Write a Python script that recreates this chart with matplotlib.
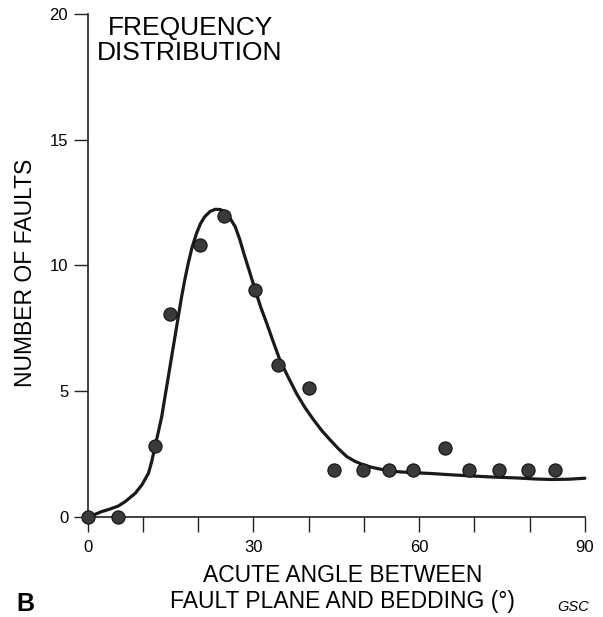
import matplotlib.pyplot as plt

plt.rcParams['font.family'] = ['Liberation Sans', 'DejaVu Sans']

# observed fault counts per angle class
angle = [0, 5.4, 12.2, 14.9, 20.3, 24.6, 30.3, 34.5, 40, 44.5, 49.8, 54.5, 58.8, 64.7, 69, 74.4, 79.7, 84.5]
count = [0, 0, 2.8, 8.05, 10.8, 11.95, 9.0, 6.05, 5.1, 1.85, 1.85, 1.85, 1.85, 2.75, 1.85, 1.85, 1.85, 1.85]

# hand drawn smooth curve
curve_x = [0, 1.2, 2.5, 4.0, 5.5, 6.8, 8.6, 9.8, 11.0, 11.6, 12.2, 12.8, 13.4, 14.0, 14.6, 15.2, 15.8,
           16.4, 17.0, 17.6, 18.2, 18.9, 19.7, 20.4, 21.2, 22.2, 23.1, 24.0, 24.9, 25.8, 26.7, 27.5,
           28.3, 29.3, 30.3, 31.3, 32.4, 33.6, 34.8, 36.3, 37.8, 39.3, 40.9, 42.4, 43.9, 45.4, 46.9,
           48.4, 49.9, 51.5, 53.0, 56.0, 59.0, 62.0, 65.5, 68.7, 73.0, 77.7, 81.0, 83.8, 87.0, 90]
curve_y = [0, 0.08, 0.2, 0.3, 0.42, 0.6, 0.93, 1.26, 1.73, 2.2, 2.8, 3.38, 3.98, 4.78, 5.57, 6.37, 7.16,
           7.96, 8.75, 9.45, 10.08, 10.72, 11.27, 11.65, 11.94, 12.15, 12.23, 12.22, 12.13, 11.86, 11.54, 11.05,
           10.45, 9.75, 9.03, 8.35, 7.7, 6.95, 6.23, 5.55, 4.9, 4.35, 3.85, 3.42, 3.05, 2.7, 2.39,
           2.2, 2.06, 1.96, 1.89, 1.79, 1.75, 1.72, 1.67, 1.63, 1.58, 1.54, 1.5, 1.48, 1.49, 1.53]

fig = plt.figure(figsize=(6.03, 6.17), dpi=100)
ax = fig.add_axes([0.1454, 0.1626, 0.8246, 0.8147])

ax.plot(curve_x, curve_y, color='#1a1a1a', lw=2.3, solid_capstyle='round', solid_joinstyle='round', clip_on=False)
ax.plot(angle, count, 'o', color='#3a3a3a', mec='#111111', mew=0.8, ms=9.5, clip_on=False, zorder=3)

ax.set_xlim(0, 90)
ax.set_ylim(0, 20)
ax.spines['top'].set_visible(False)
ax.spines['right'].set_visible(False)
for s in ['left', 'bottom']:
    ax.spines[s].set_linewidth(1.2)
    ax.spines[s].set_color('#222222')

ax.set_xticks(range(0, 91, 10))
ax.set_xticklabels([str(v) if v % 30 == 0 else '' for v in range(0, 91, 10)])
ax.set_yticks([0, 5, 10, 15, 20])
ax.tick_params(axis='x', direction='out', length=11, width=1.0, labelsize=12, pad=6, color='#222222')
ax.tick_params(axis='y', direction='out', length=10, width=1.0, labelsize=12, pad=4, color='#222222')

ax.set_xlabel('ACUTE ANGLE BETWEEN\nFAULT PLANE AND BEDDING (°)', fontsize=16.5, linespacing=1.15)
ax.xaxis.set_label_coords(0.512, -0.094, transform=ax.transAxes)
ax.xaxis.label.set_va('top')
ax.set_ylabel('NUMBER OF FAULTS', fontsize=16.5, va='center')
ax.yaxis.set_label_coords(-0.126, 0.486, transform=ax.transAxes)

ax.text(0.206, 0.996, 'FREQUENCY\nDISTRIBUTION', transform=ax.transAxes, ha='center', va='top',
        fontsize=19, linespacing=1.05)

fig.text(0.027, 0.009, 'B', fontsize=18, fontweight='bold', ha='left', va='baseline')
fig.text(0.925, 0.009, 'GSC', fontsize=10.5, fontstyle='italic', ha='left', va='baseline')

fig.savefig('out.png', dpi=100)
